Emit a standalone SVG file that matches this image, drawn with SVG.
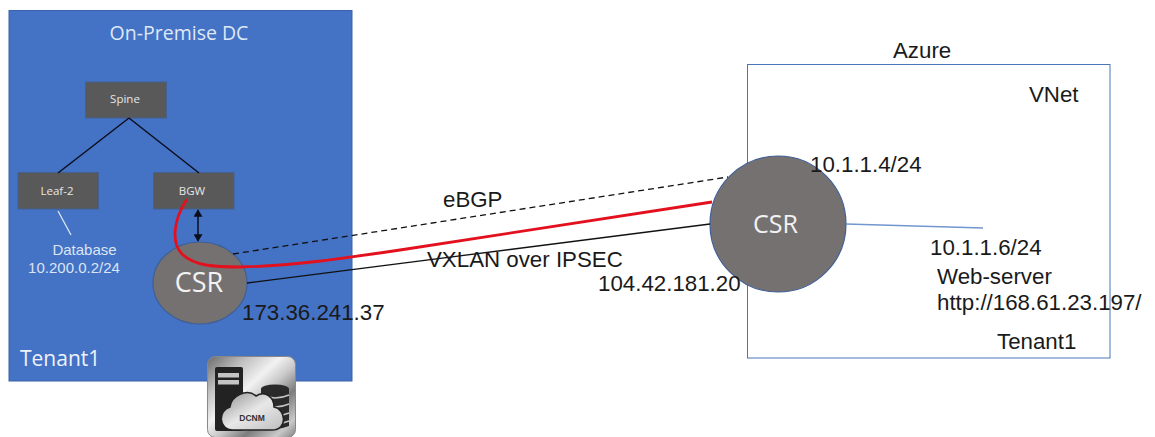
<svg xmlns="http://www.w3.org/2000/svg" width="1155" height="437" viewBox="0 0 1155 437">
<style>
.sans{font-family:"Open Sans","Noto Sans",sans-serif}
.ar{font-family:"Liberation Sans",Arial,sans-serif}
.box{fill:#595959;stroke:#44618f;stroke-width:1}
.boxt{font-size:11.5px;fill:#e6e6e6;text-anchor:middle}
.csr{fill:#767171;stroke:#3f5f95;stroke-width:1.2}
.k{fill:#1a1a1a;font-size:22.3px}
.wire{fill:none;stroke:#0a0f1e;stroke-width:1.5}
</style>
<defs>
<marker id="ah" markerWidth="6" markerHeight="6" refX="4.500" refY="3" orient="auto-start-reverse"><path d="M0 0L5 3L0 6Z" fill="#0a0f1e"/></marker>
<linearGradient id="silver" x1="0" y1="0" x2="1" y2="1"><stop offset="0" stop-color="#6a6a6a"/><stop offset=".22" stop-color="#bdbdbd"/><stop offset=".42" stop-color="#f2f2f2"/><stop offset=".55" stop-color="#c8c8c8"/><stop offset=".7" stop-color="#7d7d7d"/><stop offset=".88" stop-color="#c9c9c9"/><stop offset="1" stop-color="#808080"/></linearGradient>
<linearGradient id="cloud" x1="0" y1="0" x2="1" y2="1"><stop offset="0" stop-color="#8f8f8f"/><stop offset=".5" stop-color="#e8e8e8"/><stop offset="1" stop-color="#bdbdbd"/></linearGradient>
</defs>
<g id="on-premise-dc">
<rect x="9" y="10.500" width="343" height="370.500" fill="#4472c4" stroke="#3a62a8"/>
<text class="sans" x="179" y="40" font-size="19.500" fill="#dfe8f6" text-anchor="middle">On-Premise DC</text>
<text class="sans" x="20" y="366" font-size="21" fill="#eef2fa">Tenant1</text>
</g>
<g id="azure">
<rect x="747.500" y="64.500" width="362.500" height="293.500" fill="#fff" stroke="#4a76b8" stroke-width="1"/>
<text class="ar k" x="893" y="58">Azure</text>
<text class="ar k" x="1029" y="102">VNet</text>
<text class="ar k" x="997" y="349">Tenant1</text>
</g>
<g id="spine"><rect class="box" x="85.500" y="82" width="81" height="36"/><text class="sans boxt" x="125" y="103">Spine</text></g>
<g id="leaf-2"><rect class="box" x="18" y="172.500" width="80.500" height="36.500"/><text class="sans boxt" x="57" y="195">Leaf-2</text></g>
<g id="bgw"><rect class="box" x="153.500" y="172.500" width="80.500" height="36.500"/><text class="sans boxt" x="192" y="195">BGW</text></g>
<g id="database"><text class="ar" x="84.500" y="255" font-size="15" fill="#dbe5f5" text-anchor="middle">Database</text><text class="ar" x="74" y="273" font-size="15" fill="#dbe5f5" text-anchor="middle">10.200.0.2/24</text></g>
<g id="csr-left"><ellipse class="csr" cx="200" cy="283" rx="47" ry="41"/><text class="sans" x="199" y="292" font-size="27" fill="#f2f2f2" text-anchor="middle">CSR</text></g>
<g id="csr-right"><circle class="csr" cx="778" cy="224" r="68"/><text class="sans" x="775.500" y="233" font-size="25" fill="#f2f2f2" text-anchor="middle">CSR</text></g>
<g id="connectors">
<path class="wire" d="M129 118L58 173M129 118L199 173"/>
<path class="wire" d="M198 210V241" marker-start="url(#ah)" marker-end="url(#ah)"/>
<path d="M58 211L71 235" fill="none" stroke="#dbe5f5" stroke-width="1.300"/>
<path d="M233 254L728 177" fill="none" stroke="#111" stroke-width="1.300" stroke-dasharray="6 4"/>
<path d="M247 283L710 224" fill="none" stroke="#111" stroke-width="1.300"/>
<path d="M187 199C172 222 172 244 182 254C194 266 215 267 240 267C290 266 340 259 400 250L712 202" fill="none" stroke="#e3101e" stroke-width="2.800"/>
<path d="M846 224L983 228" fill="none" stroke="#7296cf" stroke-width="1.300"/>
</g>
<g id="labels">
<text class="ar k" x="242" y="320">173.36.241.37</text>
<text class="ar k" x="443" y="207">eBGP</text>
<text class="ar k" x="427" y="267">VXLAN over IPSEC</text>
<text class="ar k" x="598" y="291">104.42.181.20</text>
<text class="ar k" x="810" y="172">10.1.1.4/24</text>
<text class="ar k" x="930" y="255">10.1.1.6/24</text>
<text class="ar k" x="937" y="284">Web-server</text>
<text class="ar k" x="937" y="310">http://168.61.23.197/</text>
</g>
<g id="dcnm">
<rect x="207.500" y="356.500" width="88" height="81" rx="8" fill="url(#silver)" stroke="#888"/>
<rect x="215" y="367" width="28" height="64" rx="2" fill="#222"/>
<rect x="218" y="373" width="21" height="4.500" fill="#c4c4c4"/><rect x="218" y="380" width="21" height="4.500" fill="#c4c4c4"/>
<path d="M261 389V426Q275 432 289 426V389Z" fill="#2a2a2a"/>
<ellipse cx="275" cy="389" rx="14" ry="4.500" fill="#2a2a2a"/>
<path d="M261 395Q275 401 289 395M261 404Q275 410 289 404M261 413Q275 419 289 413M261 421Q275 427 289 421" fill="none" stroke="#c4c4c4" stroke-width="1.500"/>
<path d="M233 430C218 430 218 410 230 407C231 396 247 388 256 396C266 390 274 398 274 407C286 409 288 430 272 430Z" fill="url(#cloud)" stroke="#222" stroke-width="1.500"/>
<text class="ar" x="252" y="421" font-size="8.500" font-weight="700" fill="#333" text-anchor="middle">DCNM</text>
</g>
</svg>
